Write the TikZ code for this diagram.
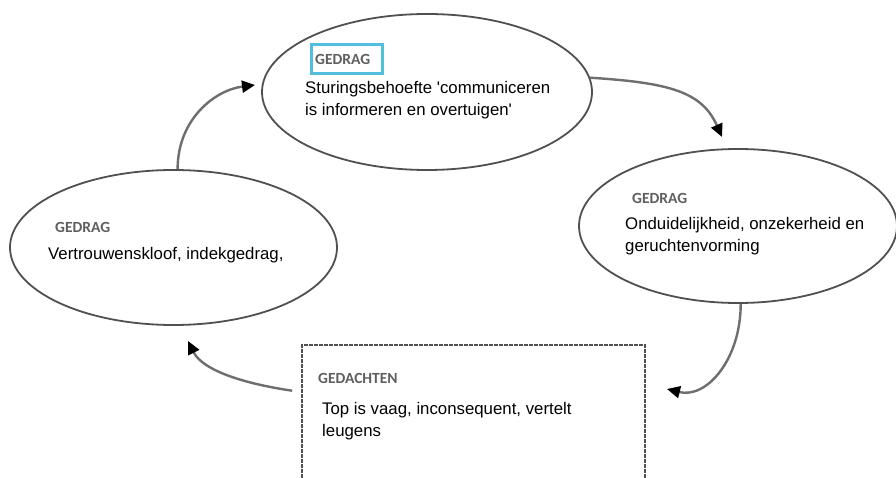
\documentclass[tikz,border=0pt]{standalone}
\usepackage{fontspec}
\setmainfont{Liberation Sans}
\newfontfamily\labelfont{Carlito}
\usetikzlibrary{shapes.geometric,arrows.meta}
\definecolor{outline}{RGB}{80,80,80}
\definecolor{arrowgray}{RGB}{110,110,110}
\definecolor{tagcyan}{RGB}{80,190,220}
\definecolor{taggray}{RGB}{95,95,95}
\begin{document}
\begin{tikzpicture}[x=1pt,y=1pt,
  oval/.style={ellipse,draw=outline,line width=1.8pt,inner sep=0pt},
  thoughtbox/.style={rectangle,draw=outline,line width=1.8pt,dash pattern=on 1.6pt off 0.9pt,inner sep=0pt},
  tag/.style={anchor=west,inner sep=0pt,text=taggray,font=\labelfont\bfseries\fontsize{15.5}{18}\selectfont},
  body/.style={anchor=north west,inner sep=0pt,align=left,font=\fontsize{16.8}{22.5}\selectfont},
  flow/.style={draw=arrowgray,line width=2.4pt,-{Triangle[length=13pt,width=12pt,fill=black,color=black]}},
  tagframe/.style={rectangle,draw=tagcyan,line width=3pt,inner sep=0pt}
]
\clip (0,0) rectangle (896,477);
\fill[white] (0,0) rectangle (896,477);

% the four stages of the cycle
\node[oval,minimum width=330pt,minimum height=156pt] (top) at (427,385) {};
\node[oval,minimum width=318pt,minimum height=154pt] (right) at (738,251) {};
\node[oval,minimum width=327pt,minimum height=155pt] (left) at (173.5,229.5) {};
\node[thoughtbox,minimum width=343pt,minimum height=145pt] (box) at (473.5,59.5) {};

% top stage
\node[tagframe,minimum width=71pt,minimum height=29pt] (frame) at (346.5,417.5) {};
\node[tag] (tagtop) at (315,418) {GEDRAG};
\node[body] (texttop) at (305,396) {Sturingsbehoefte \textquotesingle communiceren\\is informeren en overtuigen\textquotesingle};

% right stage
\node[tag] (tagright) at (632,279) {GEDRAG};
\node[body] (textright) at (625,260) {Onduidelijkheid, onzekerheid en\\geruchtenvorming};

% left stage
\node[tag] (tagleft) at (55,250) {GEDRAG};
\node[body] (textleft) at (48,230) {Vertrouwenskloof, indekgedrag,};

% thoughts
\node[tag] (tagbox) at (318,99) {GEDACHTEN};
\node[body] (textbox) at (322,75) {Top is vaag, inconsequent, vertelt\\leugens};

% connectors
\coordinate (t1) at (722,340);
\coordinate (t2) at (667,88);
\coordinate (t3) at (188,136);
\coordinate (t4) at (255,392);
\draw[flow] (top.5) .. controls +(80,-5) and +(-20,45) .. (t1);
\draw[flow] (right.-88) .. controls +(0,-55) and +(40,-10) .. (t2);
\draw[flow,shorten <=9pt] (box.west |- 0,85) .. controls +(-55,8) and +(15,-30) .. (t3);
\draw[flow] (left.87) .. controls +(0,50) and +(-40,-5) .. (t4);
\end{tikzpicture}
\end{document}
